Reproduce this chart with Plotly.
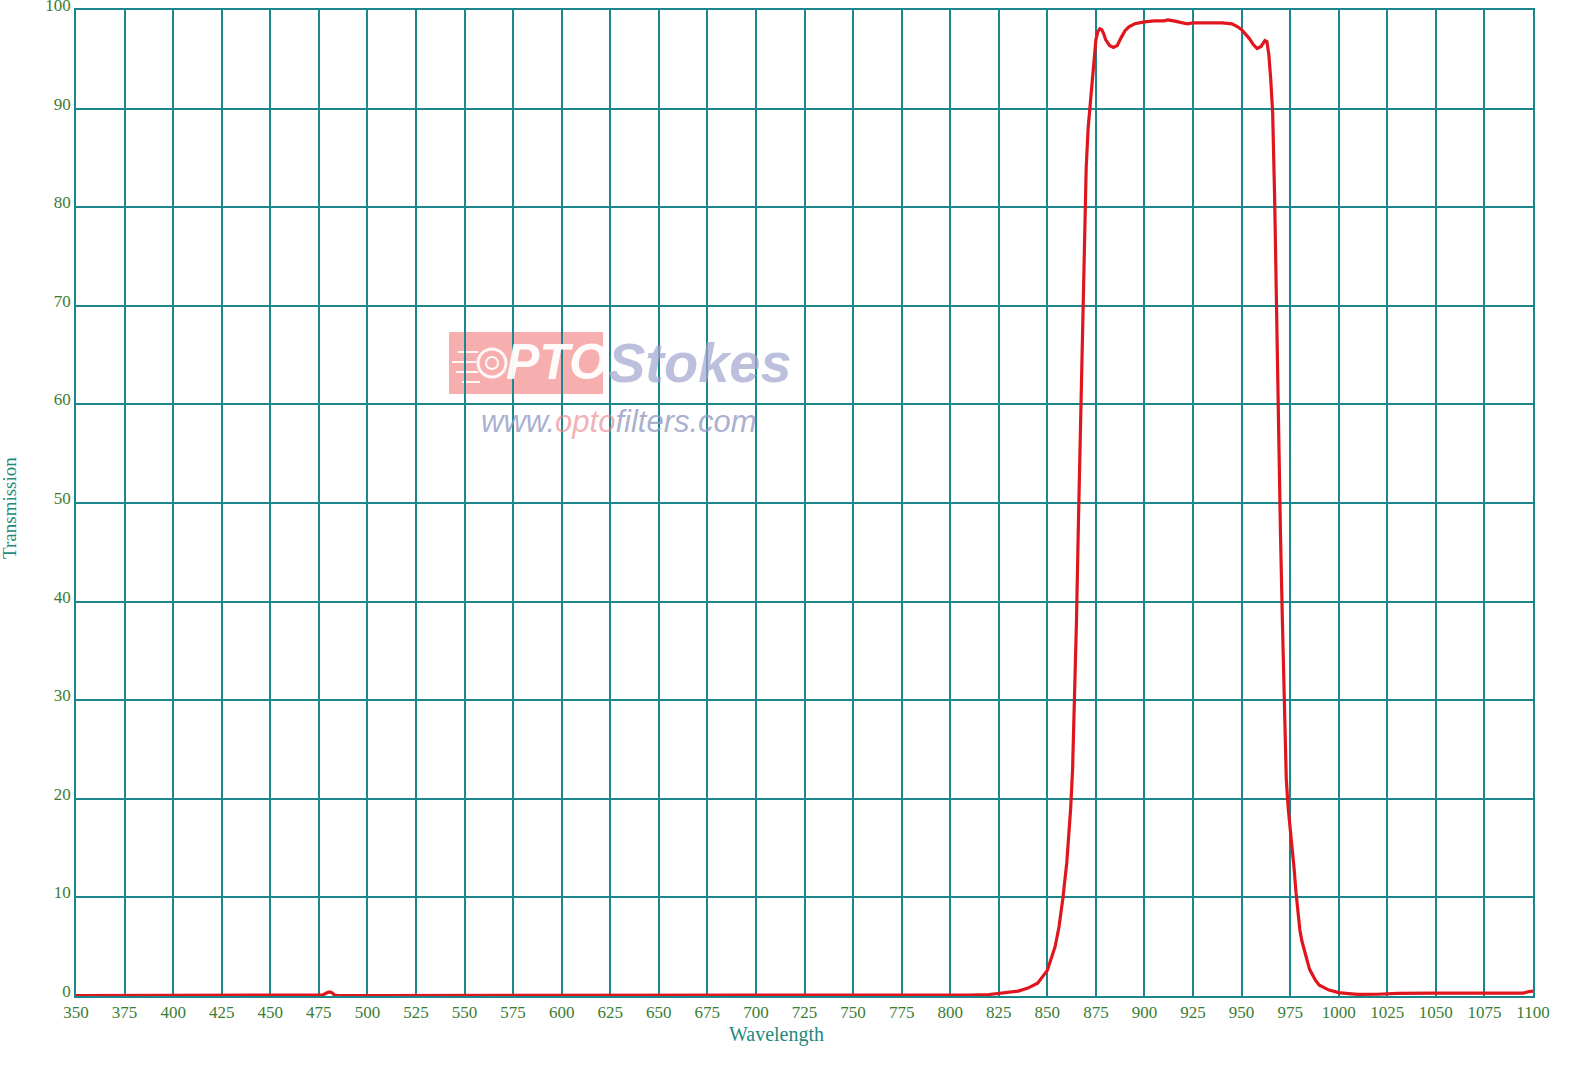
import plotly.graph_objects as go

wavelength = [350, 400, 450, 475, 477, 479, 480, 481, 482, 483, 485, 500, 600, 700, 800, 810, 820, 825, 830, 835, 840, 845,
              850, 852, 854, 856, 858, 860, 861, 862, 863, 864, 865, 866, 867, 868, 869, 870, 871, 872, 873, 874,
              875, 876, 877, 878, 879, 880, 882, 884, 886, 888, 890, 892, 895, 900, 905, 910, 912, 915, 920, 922,
              925, 930, 935, 940, 945, 948, 950, 952, 954, 956, 958, 960, 962, 963, 964, 965, 966, 967, 968, 969,
              970, 971, 972, 973, 974, 975, 976, 977, 978, 979, 980, 981, 983, 985, 988, 990, 995, 1000, 1005, 1010,
              1020, 1030, 1050, 1075, 1095, 1098, 1100]
transmission = [0.05, 0.05, 0.05, 0.05, 0.1, 0.3, 0.4, 0.4, 0.3, 0.1, 0.05, 0.05, 0.05, 0.05, 0.05, 0.1, 0.15, 0.25, 0.35, 0.5, 0.8, 1.3,
                2.6, 3.8, 5.0, 7.0, 9.9, 13.5, 16, 19, 23, 30, 38, 48, 58, 68, 77, 84, 88, 90.5, 92.5, 95,
                97, 97.8, 98.1, 98.0, 97.6, 97.0, 96.4, 96.2, 96.4, 97.2, 97.9, 98.3, 98.6, 98.8, 98.9, 98.9, 99.0, 98.9, 98.7, 98.6,
                98.7, 98.7, 98.7, 98.7, 98.6, 98.3, 98.0, 97.6, 97.1, 96.5, 96.1, 96.3, 96.9, 96.8, 95.5, 93, 89.5, 81, 69, 57,
                47, 38, 30, 22, 19, 17, 15.5, 13, 10.5, 8.5, 6.7, 5.6, 4.0, 2.7, 1.6, 1.1, 0.6, 0.35, 0.25, 0.17,
                0.18, 0.27, 0.3, 0.3, 0.3, 0.45, 0.5]

x_ticks = list(range(350, 1101, 25))
y_ticks = list(range(0, 101, 10))

GRID = "#1b878c"
TICKCOL = "#3a7d32"
TITLECOL = "#1f8a7e"
SERIF = "Liberation Serif, Times New Roman, serif"

fig = go.Figure()
fig.add_trace(go.Scatter(x=wavelength, y=transmission, mode="lines",
                         line=dict(color="#e0161e", width=3.2), hoverinfo="x+y", showlegend=False))

fig.update_layout(
    width=1571, height=1068,
    margin=dict(l=76, r=38, t=10, b=72, autoexpand=False),
    paper_bgcolor="white", plot_bgcolor="white",
    xaxis=dict(range=[350, 1100], tickvals=x_ticks, ticktext=[str(v) for v in x_ticks],
               showgrid=True, gridcolor=GRID, gridwidth=1.5, zeroline=False, automargin=False,
               showline=True, linecolor=GRID, linewidth=1.5, mirror=True,
               ticks="", ticklabelstandoff=0, ticklabeloverflow="allow",
               tickfont=dict(family=SERIF, size=17, color=TICKCOL)),
    yaxis=dict(range=[0, 100], tickvals=y_ticks, ticktext=[str(v) for v in y_ticks],
               showgrid=True, gridcolor=GRID, gridwidth=1.5, zeroline=False, automargin=False,
               showline=True, linecolor=GRID, linewidth=1.5, mirror=True,
               ticks="", ticklabelshift=-5, ticklabelstandoff=0, ticklabeloverflow="allow",
               tickfont=dict(family=SERIF, size=17, color=TICKCOL)),
)

# axis titles
fig.add_annotation(text="Wavelength", xref="paper", yref="paper", x=(776 - 76) / 1457.0, y=(996 - 1034) / 986.0,
                   yanchor="middle", xanchor="center", showarrow=False,
                   font=dict(family=SERIF, size=20, color=TITLECOL))
fig.add_annotation(text="Transmission", xref="paper", yref="paper", x=(10 - 76) / 1457.0, y=0.495,
                   textangle=-90, xanchor="center", yanchor="middle", showarrow=False,
                   font=dict(family=SERIF, size=19, color=TITLECOL))

# watermark
def px(xp):
    return (xp - 76) / 1457.0

def py(yp):
    return (996 - yp) / 986.0

fig.add_shape(type="rect", xref="paper", yref="paper", x0=px(449), x1=px(603), y0=py(394), y1=py(332),
              fillcolor="rgba(244,140,140,0.7)", line=dict(width=0), layer="below")
fig.add_shape(type="circle", xref="paper", yref="paper", x0=px(478), x1=px(506), y0=py(377), y1=py(349),
              fillcolor="rgba(0,0,0,0)", line=dict(color="rgba(255,255,255,0.9)", width=3), layer="below")
fig.add_shape(type="circle", xref="paper", yref="paper", x0=px(486), x1=px(498), y0=py(369), y1=py(357),
              fillcolor="rgba(0,0,0,0)", line=dict(color="rgba(255,255,255,0.9)", width=2), layer="below")
for yy, xa, xb in [(352, 458, 478), (362, 452, 476), (372, 456, 478), (382, 462, 480)]:
    fig.add_shape(type="line", xref="paper", yref="paper", x0=px(xa), x1=px(xb), y0=py(yy), y1=py(yy),
                  line=dict(color="rgba(255,255,255,0.9)", width=2), layer="below")
fig.add_annotation(text="<b><i>PTO</i></b>", xref="paper", yref="paper", x=px(557), y=py(362),
                   xanchor="center", yanchor="middle", showarrow=False,
                   font=dict(family="Liberation Sans, Arial, sans-serif", size=50, color="rgba(255,255,255,0.95)"))
fig.add_annotation(text="<b><i>Stokes</i></b>", xref="paper", yref="paper", x=px(700), y=py(362),
                   xanchor="center", yanchor="middle", showarrow=False,
                   font=dict(family="Liberation Sans, Arial, sans-serif", size=56, color="rgba(160,165,205,0.7)"))
fig.add_annotation(text="<i>www.<span style='color:rgba(235,130,140,0.8)'>opto</span>filters.com</i>",
                   xref="paper", yref="paper", x=px(619), y=py(422),
                   xanchor="center", yanchor="middle", showarrow=False,
                   font=dict(family="Liberation Sans, Arial, sans-serif", size=31, color="rgba(150,155,195,0.8)"))

fig.write_html("out.html", config={"displayModeBar": False},
               post_script="document.body.style.margin='0';document.body.style.overflow='hidden';")
